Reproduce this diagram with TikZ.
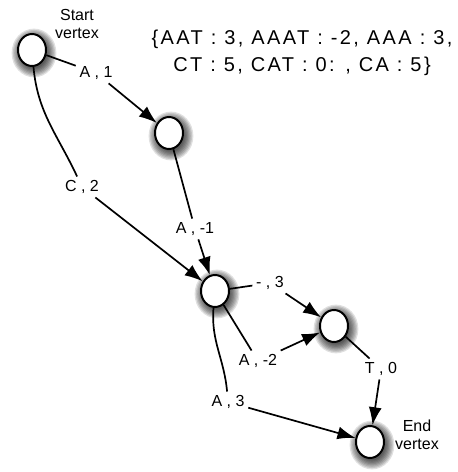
\documentclass[tikz,border=0pt]{standalone}
\usepackage{fontspec}
\setmainfont{Liberation Sans}
\usetikzlibrary{arrows.meta, shapes.geometric}

\begin{document}
\begin{tikzpicture}[x = 1pt, y = 1pt, > = {Latex[length = 18pt, width = 13pt]}, line width = 1.7pt,
	vertex/.style = {ellipse, draw, line width = 2pt, fill = white, minimum width = 28pt, minimum height = 32pt, inner sep = 0pt},
	weight/.style = {inner sep = 3pt, font = \fontsize{16}{16}\selectfont}]

	% Definitions

	\def\W{458}		% Width of figure
	\def\H{472}		% Height of figure

	\useasboundingbox (0, 0) rectangle (\W, \H);

	% Draw vertices with a soft shadow

	\foreach \n/\x/\y in {start/32/422, v1/169/339, v2/215/181, v3/334/146, end/370/30}
	{
		\foreach \r in {1, ..., 8}
			\fill [black, opacity = 0.12] (\x + 2, \y - 3) ellipse ({12 + 1.3 * \r} and {14 + 1.3 * \r});
		\node [vertex] (\n) at (\x, \y) {};
	}

	% Draw weights

	\foreach \n/\x/\y/\t in {a1/96/399/{A , 1}, c2/82/285/{C , 2}, a-1/195/243/{A , -1}, g3/270/189/{- , 3},
			a-2/258/111/{A , -2}, t0/381/103/{T , 0}, a3/228/70/{A , 3}}
		\node [weight] (\n) at (\x, \y) {\t};

	% Draw straight edges

	\foreach \a/\w/\b in {start/a1/v1, v1/a-1/v2, v2/g3/v3, v2/a-2/v3, v3/t0/end}
	{
		\draw (\a) -- (\w);
		\draw [->] (\w) -- (\b);
	}

	% Draw curved edges

	\draw (start) to [out = -85, in = 115] (c2);
	\draw [->] (c2) -- (v2);
	\draw (v2) to [out = -95, in = 95] (a3);
	\draw [->] (a3) -- (end);

	% Draw texts

	\node [font = \fontsize{16}{18}\selectfont, align = center] at (77, 448) {Start\\vertex};
	\node [font = \fontsize{16}{18}\selectfont, align = center] at (417, 37) {End\\vertex};
	\node [font = \fontsize{20}{27}\selectfont\addfontfeature{LetterSpace = 12}, align = center] (set) at (302, 419)
		{\{AAT : 3, AAAT : -2, AAA : 3,\\CT : 5, CAT : 0: , CA : 5\}};

\end{tikzpicture}
\end{document}
